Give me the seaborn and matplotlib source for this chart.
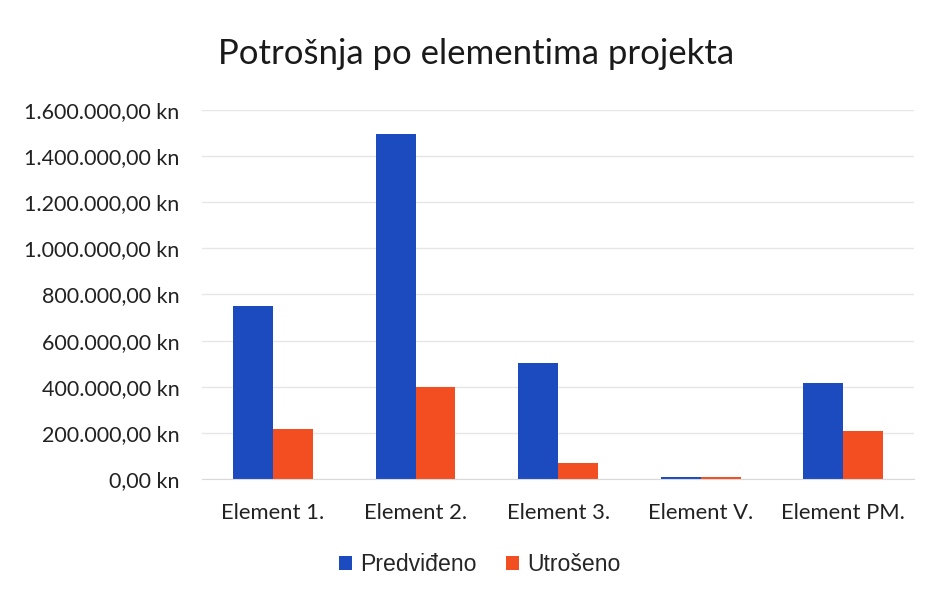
import numpy as np
import pandas as pd
import matplotlib.pyplot as plt
import matplotlib.ticker as mticker
import seaborn as sns

categories = ["Element 1.", "Element 2.", "Element 3.", "Element V.", "Element PM."]
predvideno = [750000, 1495000, 505000, 10000, 415000]
utroseno = [217000, 398000, 68000, 8000, 208000]
series = ["Predviđeno", "Utrošeno"]

df = pd.DataFrame({
    "Element": categories * 2,
    "Iznos": predvideno + utroseno,
    "Serija": [series[0]] * len(categories) + [series[1]] * len(categories),
})

sns.set_style("white")
plt.rcParams["font.family"] = ["Lato", "DejaVu Sans"]

fig = plt.figure(figsize=(9.34, 5.91), dpi=100)
ax = fig.add_axes([0.216, 0.1895, 0.763, 0.6245])

sns.barplot(data=df, x="Element", y="Iznos", hue="Serija",
            palette=["#1C4BC0", "#F24E22"], width=0.56, gap=0,
            saturation=1, linewidth=0, ax=ax, legend=True)

ax.set_ylim(0, 1600000)
ax.set_yticks(np.arange(0, 1600001, 200000))

def kn(v, pos):
    s = f"{v:,.2f}".replace(",", "X").replace(".", ",").replace("X", ".")
    return s + " kn"

ax.yaxis.set_major_formatter(mticker.FuncFormatter(kn))
ax.grid(axis="y", color="#e6e6e6", linewidth=1)
ax.set_axisbelow(True)
for s in ["top", "right", "left"]:
    ax.spines[s].set_visible(False)
ax.spines["bottom"].set_color("#d9d9d9")
ax.tick_params(axis="both", length=0, colors="#222222")
ax.tick_params(axis="y", labelsize=15.5, pad=16)
ax.tick_params(axis="x", labelsize=15.8, pad=17)
ax.set_xlabel("")
ax.set_ylabel("")

fig.suptitle("Potrošnja po elementima projekta", x=0.51, y=0.935, fontsize=25, color="#1a1a1a")

handles, labels = ax.get_legend_handles_labels()
ax.legend(handles, labels, loc="center", bbox_to_anchor=(0.39, -0.232),
          ncol=2, frameon=False, prop={"family": "Liberation Sans", "size": 16.6},
          handlelength=0.55, handleheight=0.55, handletextpad=0.35, columnspacing=1.3)

fig.savefig("out.png", dpi=100)
